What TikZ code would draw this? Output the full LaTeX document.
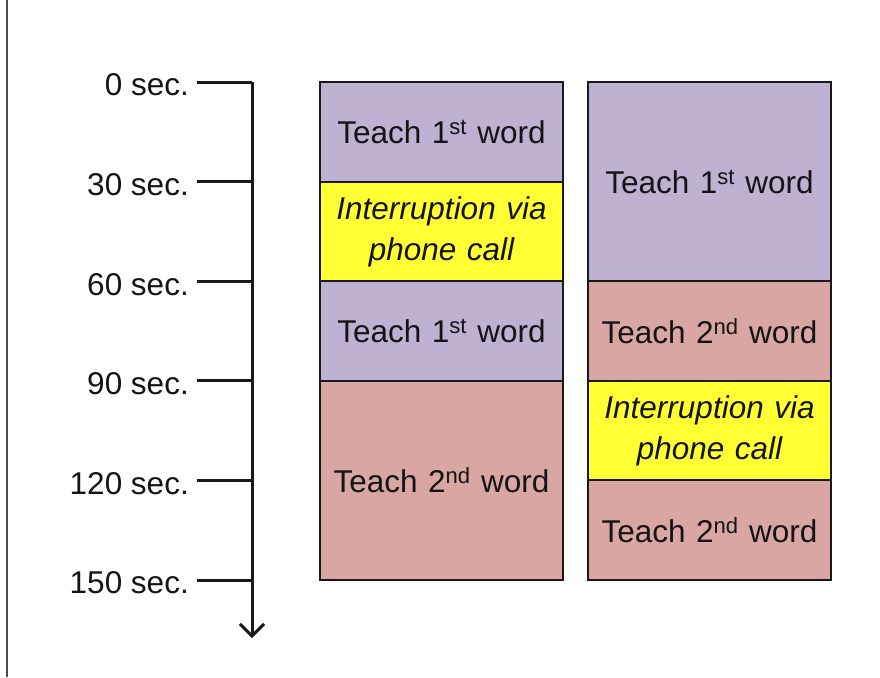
\documentclass[tikz,border=0pt]{standalone}
\usepackage{fontspec}
\setmainfont{Liberation Sans}
\usetikzlibrary{arrows.meta,positioning}
\definecolor{lavender}{RGB}{190,177,210}
\definecolor{dustyrose}{RGB}{217,166,164}
\definecolor{callyellow}{RGB}{255,255,51}

\begin{document}
\begin{tikzpicture}
  [x=1pt,y=-1pt,
   every node/.style={font=\fontsize{31.5}{41}\selectfont,text=black!92},
   block/.style={draw=black!90,line width=2pt,outer sep=0pt,inner sep=0pt,
                 minimum width=243pt,text width=236pt,align=center},
   short/.style={block,minimum height=99.6pt},
   long/.style={block,minimum height=199.2pt},
   teachone/.style={fill=lavender},
   teachtwo/.style={fill=dustyrose},
   call/.style={fill=callyellow,font=\fontsize{31.5}{41}\selectfont\itshape},
   timelabel/.style={anchor=east,inner sep=0pt,inner xsep=8pt,yshift=-3pt},
   tick/.style={line width=3pt,black!90}]
  \useasboundingbox (0,0) rectangle (880,677);
  \draw[gray!60!black,line width=1.2pt] (7,0) -- (7,677);
  % time axis
  \coordinate (axtop) at (252,82);
  \coordinate (axend) at (252,638);
  \draw[tick,-{Straight Barb[length=12pt,width=24pt]}] (axtop) -- (axend);
  \foreach \i/\lab in {0/0,1/30,2/60,3/90,4/120,5/150}
  {
    \node[timelabel] (l\i) at (197,82+99.6*\i) {\lab\ sec.};
    \draw[tick] ([yshift=3pt]l\i.east) -- ([yshift=3pt]l\i.east -| axtop);
  }
  % first schedule
  \node[short,teachone,anchor=north west] (a1) at (320,82) {Teach 1\textsuperscript{st} word};
  \node[short,call,below=0pt of a1] (a2) {Interruption via\\phone call};
  \node[short,teachone,below=0pt of a2] (a3) {Teach 1\textsuperscript{st} word};
  \node[long,teachtwo,below=0pt of a3] (a4) {Teach 2\textsuperscript{nd} word};
  % second schedule
  \node[long,teachone,anchor=north west] (b1) at (588,82) {Teach 1\textsuperscript{st} word};
  \node[short,teachtwo,below=0pt of b1] (b2) {Teach 2\textsuperscript{nd} word};
  \node[short,call,below=0pt of b2] (b3) {Interruption via\\phone call};
  \node[short,teachtwo,below=0pt of b3] (b4) {Teach 2\textsuperscript{nd} word};
\end{tikzpicture}
\end{document}
